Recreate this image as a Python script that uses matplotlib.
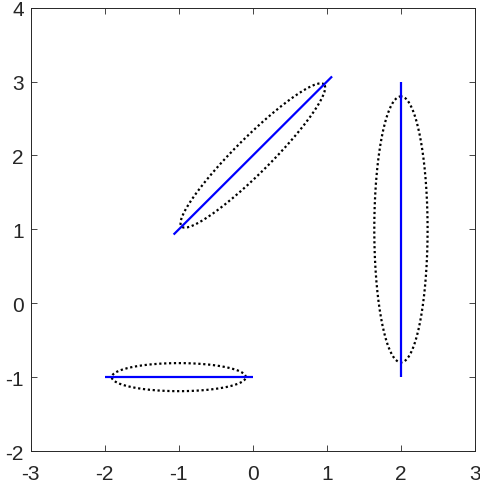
import numpy as np
import matplotlib
matplotlib.use("Agg")
import matplotlib.pyplot as plt

# Ellipse parameters (center x, center y, semi-major, semi-minor, angle deg)
ell_cx = [-1.0, 2.0, 0.0]
ell_cy = [-1.0, 1.0, 2.0]
ell_a = [0.905, 1.80, 1.36]
ell_b = [0.19, 0.36, 0.24]
ell_ang = [0.0, 90.0, 45.0]

# Principal axis segments (x0, y0, x1, y1)
seg_x0 = [-2.0, 2.0, -1.07]
seg_y0 = [-1.0, -1.0, 0.93]
seg_x1 = [0.0, 2.0, 1.07]
seg_y1 = [-1.0, 3.0, 3.07]

xticks = [-3, -2, -1, 0, 1, 2, 3]
yticks = [-2, -1, 0, 1, 2, 3, 4]

plt.rcParams['font.family'] = ['Liberation Sans', 'DejaVu Sans']
fig = plt.figure(figsize=(4.81, 4.85), dpi=100)
ax = fig.add_axes([0.0638, 0.068, 0.9237, 0.914])

t = np.linspace(0, 2 * np.pi, 400)
for cx, cy, a, b, ang in zip(ell_cx, ell_cy, ell_a, ell_b, ell_ang):
    th = np.deg2rad(ang)
    x = cx + a * np.cos(t) * np.cos(th) - b * np.sin(t) * np.sin(th)
    y = cy + a * np.cos(t) * np.sin(th) + b * np.sin(t) * np.cos(th)
    ax.plot(x, y, color='black', lw=1.6, linestyle=(0, (1, 1.2)))

for x0, y0, x1, y1 in zip(seg_x0, seg_y0, seg_x1, seg_y1):
    ax.plot([x0, x1], [y0, y1], color='#0000ff', lw=1.6, solid_capstyle='butt')

ax.set_xlim(-3, 3)
ax.set_ylim(-2, 4)
ax.set_xticks(xticks)
ax.set_yticks(yticks)
ax.set_xticklabels([str(v) for v in xticks])
ax.set_yticklabels([str(v) for v in yticks])
ax.tick_params(direction='in', length=4, width=0.6, top=True, right=True,
               labelsize=15, colors='#262626', labelcolor='#262626')
ax.tick_params(axis='x', pad=9.5)
ax.tick_params(axis='y', pad=5)
for s in ax.spines.values():
    s.set_color('#262626')
    s.set_linewidth(0.7)

fig.savefig('out.png', dpi=100)
